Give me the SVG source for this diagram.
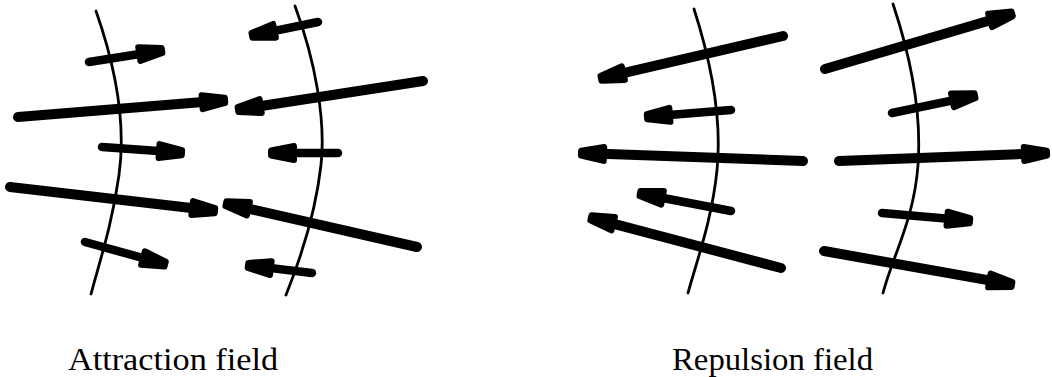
<svg xmlns="http://www.w3.org/2000/svg" width="1052" height="377" viewBox="0 0 1052 377">
<style>
.curve{fill:none;stroke:#000;stroke-width:2.8;stroke-linecap:round}
.arr{fill:none;stroke:#000;stroke-width:10;stroke-linecap:round;marker-end:url(#head)}
.arr.s{stroke-width:8.5}
.lbl{font-family:"Liberation Serif",serif;font-size:32px;fill:#000}
</style>
<defs>
<marker id="head" markerUnits="userSpaceOnUse" markerWidth="60" markerHeight="60" viewBox="-30 -30 60 60" refX="0" refY="0" orient="auto" overflow="visible">
<path d="M-10,-7 L13,-2.5 L13,2.5 L-10,7 Z" fill="#000" stroke="#000" stroke-width="6" stroke-linejoin="round"/>
</marker>
</defs>
<g id="field-lines">
<path id="curve1" class="curve" d="M96,11 C116,68 126,125 119,175 S100,260 91,294"/>
<path id="curve2" class="curve" d="M295,6 C315,60 326,120 321,165 S300,260 286,295"/>
<path id="curve3" class="curve" d="M694,9 C712,65 722,120 717,170 S697,260 688,293"/>
<path id="curve4" class="curve" d="M893,4 C910,55 922,110 918,165 S893,255 883,293"/>
</g>
<g id="connectors">
<line class="arr s" x1="89" y1="62" x2="149.2" y2="52.5"/>
<line class="arr" x1="18" y1="117" x2="212.1" y2="101.3"/>
<line class="arr s" x1="102" y1="147" x2="169" y2="151.8"/>
<line class="arr" x1="10" y1="187" x2="202.1" y2="209.2"/>
<line class="arr s" x1="85" y1="242" x2="152.6" y2="260.7"/>
<line class="arr s" x1="318" y1="22" x2="264.7" y2="32.8"/>
<line class="arr" x1="423" y1="81" x2="250.8" y2="107.6"/>
<line class="arr s" x1="338" y1="153" x2="284" y2="153"/>
<line class="arr" x1="417" y1="247" x2="238.6" y2="206.5"/>
<line class="arr s" x1="312" y1="273" x2="260.9" y2="266.9"/>
<line class="arr" x1="783" y1="36" x2="613.6" y2="75.4"/>
<line class="arr s" x1="731" y1="110" x2="659.9" y2="115.7"/>
<line class="arr" x1="803" y1="161" x2="594" y2="153.6"/>
<line class="arr s" x1="731" y1="211" x2="652.7" y2="196"/>
<line class="arr" x1="781" y1="268" x2="603.5" y2="221.1"/>
<line class="arr" x1="825" y1="69" x2="999.7" y2="17.5"/>
<line class="arr s" x1="892" y1="113" x2="962.3" y2="98.3"/>
<line class="arr" x1="839" y1="161" x2="1034" y2="153.6"/>
<line class="arr s" x1="882" y1="213" x2="957.1" y2="219.6"/>
<line class="arr" x1="824" y1="251" x2="999.2" y2="282.2"/>
</g>
<g id="label-attraction"><text class="lbl" x="68" y="370" textLength="210" lengthAdjust="spacingAndGlyphs">Attraction field</text></g>
<g id="label-repulsion"><text class="lbl" x="672" y="370" textLength="201" lengthAdjust="spacingAndGlyphs">Repulsion field</text></g>
</svg>
